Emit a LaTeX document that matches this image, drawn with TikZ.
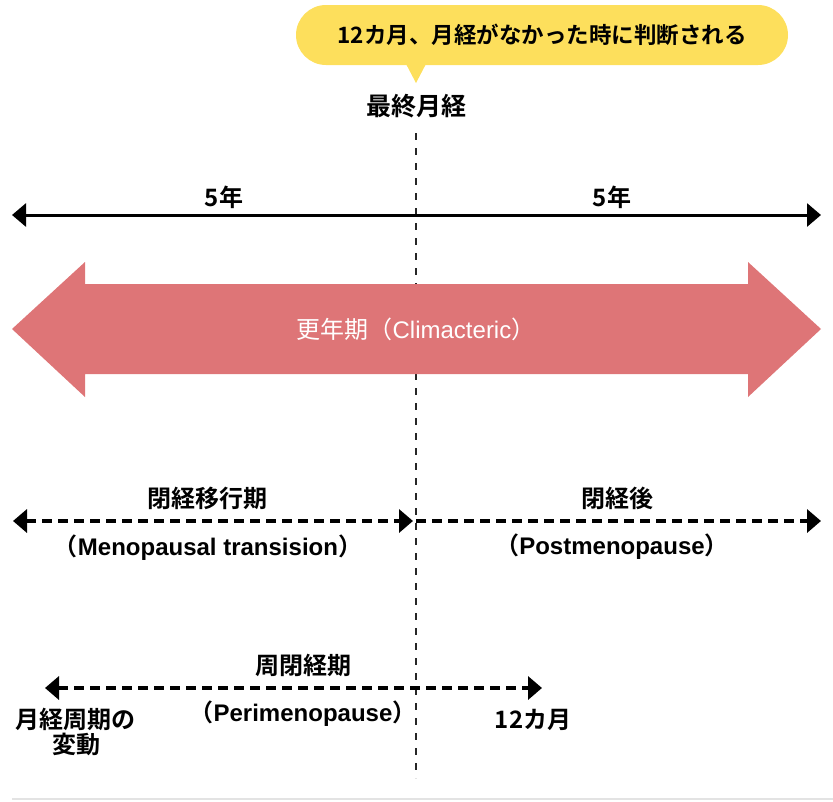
\documentclass[tikz,border=0pt]{standalone}
\usepackage{fontspec}
\usetikzlibrary{arrows.meta}
\newfontfamily\jp{Noto Sans CJK JP}[BoldFont={Noto Sans CJK JP Bold}]
\newfontfamily\lat{Liberation Sans}
\definecolor{bubbleY}{HTML}{FDDF5C}
\definecolor{pinkA}{HTML}{DE7577}
\definecolor{baseG}{HTML}{E3E3E3}
\tikzset{
  lbl/.style={inner sep=0pt, font=\jp\bfseries\fontsize{24}{28}\selectfont, text=black},
  vline/.style={line width=1.7pt, black!85, dash pattern=on 7pt off 8pt},
  solidarr/.style={line width=3pt, black, {Triangle[length=14pt,width=23pt]}-{Triangle[length=14pt,width=23pt]}},
  dasharr/.style={line width=3.5pt, black, dash pattern=on 10pt off 6pt, {Triangle[length=14pt,width=23pt]}-{Triangle[length=14pt,width=23pt]}},
}
\begin{document}
\begin{tikzpicture}[x=1pt,y=-1pt]
\useasboundingbox (0,0) rectangle (833,801);

% vertical dashed line
\coordinate (vtop) at (416,133);
\coordinate (vbot) at (416,778);
\draw[vline] (vtop) -- (vbot);

% bubble
\node[fill=bubbleY, rounded corners=30pt, minimum width=492pt, minimum height=60pt, inner sep=0pt,
      lbl, font=\jp\bfseries\fontsize{22.5}{26}\selectfont] (bubble) at (542,35) {12カ月、月経がなかった時に判断される};
\fill[bubbleY] (405,62) -- (416,83) -- (427,62) -- cycle;

\node[lbl, font=\jp\bfseries\fontsize{25}{28}\selectfont] (lmp) at (416,106) {最終月経};

% 5 years arrow
\coordinate (sL) at (12,215);
\coordinate (sR) at (821,215);
\draw[solidarr] (sL) -- (sR);
\node[lbl] (y1) at (224,197) {5年};
\node[lbl] (y2) at (612,197) {5年};

% big pink arrow
\fill[pinkA] (12,329) -- (85,262) -- (85,284) -- (748,284) -- (748,262) -- (821,329)
  -- (748,397) -- (748,374) -- (85,374) -- (85,397) -- cycle;
\node[inner sep=0pt, text=white, font=\jp\fontsize{24}{28}\selectfont] (clim) at (416,329)
  {更年期（{\lat Climacteric}）};

% menopausal transition / postmenopause
\coordinate (mL) at (13,521);
\coordinate (mM) at (413,521);
\coordinate (pM) at (416,521);
\coordinate (pR) at (821,521);
\draw[dasharr] (mL) -- (mM);
\draw[dasharr, -{Triangle[length=14pt,width=23pt]}] (pM) -- (pR);
\node[lbl] (mt) at (207,498) {閉経移行期};
\node[lbl] (mte) at (208,548) {（{\lat Menopausal transision}）};
\node[lbl] (pm) at (617,498) {閉経後};
\node[lbl] (pme) at (612,547) {（{\lat Postmenopause}）};

% perimenopause
\coordinate (qL) at (45,688);
\coordinate (qR) at (542,688);
\draw[dasharr] (qL) -- (qR);
\node[lbl] (pe) at (303,665) {周閉経期};
\node[lbl] (pee) at (303,714) {（{\lat Perimenopause}）};
\node[lbl, align=center, font=\jp\bfseries\fontsize{24}{25}\selectfont] (var) at (76,732) {月経周期の\\変動};
\node[lbl] (m12) at (533,720) {12カ月};

% bottom line
\coordinate (bL) at (12,799);
\coordinate (bR) at (833,799);
\draw[baseG, line width=2pt] (bL) -- (bR);
\end{tikzpicture}
\end{document}
